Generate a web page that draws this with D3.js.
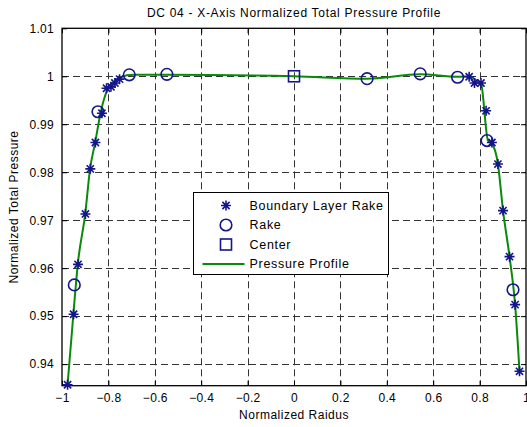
<!DOCTYPE html>
<html>
<head>
<meta charset="utf-8">
<script src="https://cdn.jsdelivr.net/npm/d3@7"></script>
<style>
    body { margin: 0; background: #fff; }
    text { font-family: "Liberation Sans", Arial, sans-serif; font-size: 12px; fill: #000; }
</style>
</head>
<body>
<div id="chart"></div>
<script>
(function () {

    // boundary layer rake (stars)
    const blrX = [-0.976, -0.950, -0.931, -0.899, -0.878, -0.856, -0.828, -0.808, -0.789, -0.772, -0.752,
                  0.755, 0.778, 0.806, 0.828, 0.853, 0.879, 0.901, 0.929, 0.953, 0.972];
    const blrY = [0.9357, 0.9504, 0.9608, 0.9713, 0.9807, 0.9862, 0.9923, 0.9975, 0.9978, 0.9986, 0.9994,
                  0.9999, 0.9986, 0.9986, 0.9928, 0.9862, 0.9817, 0.9720, 0.9624, 0.9524, 0.9385];

    // rake (circles)
    const rakeX = [-0.947, -0.845, -0.710, -0.548, 0.315, 0.544, 0.705, 0.832, 0.944];
    const rakeY = [0.9565, 0.9926, 1.0003, 1.0004, 0.9995, 1.0005, 0.9998, 0.9866, 0.9555];

    // center (square)
    const centerX = [0];
    const centerY = [1.0000];

    // pressure profile (green line)
    const profX = [-0.976, -0.951, -0.932, -0.900, -0.879, -0.857, -0.834, -0.804, -0.780, -0.756, -0.720, -0.690,
                   -0.548, 0, 0.315, 0.544, 0.705, 0.757, 0.781, 0.806, 0.836, 0.853, 0.879, 0.901, 0.929, 0.953, 0.972];
    const profY = [0.9357, 0.9504, 0.9608, 0.9713, 0.9807, 0.9862, 0.9923, 0.9972, 0.9986, 0.9995, 1.0002, 1.0003,
                   1.0003, 1.0000, 0.9995, 1.0004, 0.9999, 1.0000, 0.9993, 0.9985, 0.9866, 0.9860, 0.9817, 0.9720, 0.9624, 0.9524, 0.9385];

    const xTicks = [-1, -0.8, -0.6, -0.4, -0.2, 0, 0.2, 0.4, 0.6, 0.8, 1];
    const yTicks = [0.94, 0.95, 0.96, 0.97, 0.98, 0.99, 1, 1.01];
    const legendLabels = ['Boundary Layer Rake', 'Rake', 'Center', 'Pressure Profile'];

    const width = 527, height = 427;
    const margin = { left: 62, right: 1, top: 28.3, bottom: 41.3 };
    const navy = '#14148c';
    const green = '#0a8a0a';

    const svg = d3.select('#chart')
        .append('svg')
        .attr('width', width)
        .attr('height', height);

    const x = d3.scaleLinear().domain([-1, 1]).range([margin.left, width - margin.right]);
    const y = d3.scaleLinear().domain([0.9355, 1.01]).range([height - margin.bottom, margin.top]);

    const x0 = x.range()[0], x1 = x.range()[1];
    const y0 = y.range()[0], y1 = y.range()[1];

    // grid
    const grid = svg.append('g')
        .attr('stroke', '#333')
        .attr('stroke-width', 1)
        .attr('stroke-dasharray', '7,4');
    grid.selectAll('.gx')
        .data(xTicks.slice(1, -1))
        .join('line')
        .attr('x1', d => Math.round(x(d)) + 0.5).attr('x2', d => Math.round(x(d)) + 0.5)
        .attr('y1', y1).attr('y2', y0);
    grid.selectAll('.gy')
        .data(yTicks.filter(d => y(d) > y1 + 1 && y(d) < y0 - 1))
        .join('line')
        .attr('class', 'gy')
        .attr('y1', d => Math.round(y(d)) + 0.5).attr('y2', d => Math.round(y(d)) + 0.5)
        .attr('x1', x0).attr('x2', x1);

    // axes, ticks inward
    svg.append('g')
        .attr('transform', `translate(0,${y0})`)
        .call(d3.axisBottom(x).tickValues(xTicks).tickSize(-5).tickPadding(8).tickFormat(d3.format('')))
        .call(g => g.select('.domain').remove());
    svg.append('g')
        .attr('transform', `translate(0,${y1})`)
        .call(d3.axisTop(x).tickValues(xTicks).tickSize(-5).tickFormat(''))
        .call(g => g.select('.domain').remove());
    svg.append('g')
        .attr('transform', `translate(${x0},0)`)
        .call(d3.axisLeft(y).tickValues(yTicks).tickSize(-5).tickPadding(8).tickFormat(d3.format('')))
        .call(g => g.select('.domain').remove());
    svg.append('g')
        .attr('transform', `translate(${x1},0)`)
        .call(d3.axisRight(y).tickValues(yTicks).tickSize(-5).tickFormat(''))
        .call(g => g.select('.domain').remove());

    svg.selectAll('.tick text').style('font-size', '12px').style('letter-spacing', '0.3px').attr('fill', '#000');
    svg.selectAll('.tick line').attr('stroke', '#000');

    svg.append('rect')
        .attr('x', x0).attr('y', y1)
        .attr('width', x1 - x0).attr('height', y0 - y1)
        .attr('fill', 'none').attr('stroke', '#000').attr('stroke-width', 1.3);

    // profile line
    const profile = profX.map((d, i) => [d, profY[i]]);
    svg.append('path')
        .datum(profile)
        .attr('fill', 'none')
        .attr('stroke', green)
        .attr('stroke-width', 2)
        .attr('d', d3.line().x(d => x(d[0])).y(d => y(d[1])).curve(d3.curveMonotoneX));

    // markers
    const star = 'M-5,0H5M0,-5V5M-3.6,-3.6L3.6,3.6M-3.6,3.6L3.6,-3.6';

    svg.append('g')
        .selectAll('path')
        .data(blrX.map((d, i) => [d, blrY[i]]))
        .join('path')
        .attr('transform', d => `translate(${x(d[0])},${y(d[1])})`)
        .attr('d', star)
        .attr('stroke', navy)
        .attr('stroke-width', 1.6)
        .attr('fill', 'none');

    svg.append('g')
        .selectAll('circle')
        .data(rakeX.map((d, i) => [d, rakeY[i]]))
        .join('circle')
        .attr('cx', d => x(d[0]))
        .attr('cy', d => y(d[1]))
        .attr('r', 5.8)
        .attr('stroke', navy)
        .attr('stroke-width', 1.6)
        .attr('fill', 'none');

    svg.append('g')
        .selectAll('rect')
        .data(centerX.map((d, i) => [d, centerY[i]]))
        .join('rect')
        .attr('x', d => x(d[0]) - 5.5)
        .attr('y', d => y(d[1]) - 5.5)
        .attr('width', 11).attr('height', 11)
        .attr('stroke', navy)
        .attr('stroke-width', 1.6)
        .attr('fill', 'none');

    // legend
    const legend = svg.append('g').attr('transform', 'translate(193.5,192.5)');
    legend.append('rect')
        .attr('width', 195).attr('height', 82)
        .attr('fill', '#fff').attr('stroke', '#000').attr('stroke-width', 1);

    const rows = legend.selectAll('g.row')
        .data(legendLabels)
        .join('g')
        .attr('class', 'row')
        .attr('transform', (d, i) => `translate(0,${13 + i * 19.5})`);

    rows.append('text')
        .attr('x', 56)
        .attr('dy', '0.35em')
        .style('font-size', '12.5px')
        .style('letter-spacing', '0.7px')
        .text(d => d);

    rows.filter((d, i) => i === 0).append('path')
        .attr('transform', 'translate(32.5,0)')
        .attr('d', star).attr('stroke', navy).attr('stroke-width', 1.6);
    rows.filter((d, i) => i === 1).append('circle')
        .attr('cx', 32.5).attr('r', 5.8)
        .attr('stroke', navy).attr('stroke-width', 1.6).attr('fill', 'none');
    rows.filter((d, i) => i === 2).append('rect')
        .attr('x', 27).attr('y', -5.5).attr('width', 11).attr('height', 11)
        .attr('stroke', navy).attr('stroke-width', 1.6).attr('fill', 'none');
    rows.filter((d, i) => i === 3).append('line')
        .attr('x1', 9).attr('x2', 51)
        .attr('stroke', green).attr('stroke-width', 2);

    // titles
    svg.append('text')
        .attr('x', (x0 + x1) / 2).attr('y', 17)
        .attr('text-anchor', 'middle')
        .style('font-size', '12px')
        .style('letter-spacing', '0.7px')
        .text('DC 04 - X-Axis Normalized Total Pressure Profile');

    svg.append('text')
        .attr('x', (x0 + x1) / 2).attr('y', 419)
        .attr('text-anchor', 'middle')
        .style('letter-spacing', '0.5px')
        .text('Normalized Raidus');

    svg.append('text')
        .attr('transform', `translate(18,${(y0 + y1) / 2}) rotate(-90)`)
        .attr('text-anchor', 'middle')
        .style('letter-spacing', '0.5px')
        .text('Normalized Total Pressure');
})();
</script>
</body>
</html>
